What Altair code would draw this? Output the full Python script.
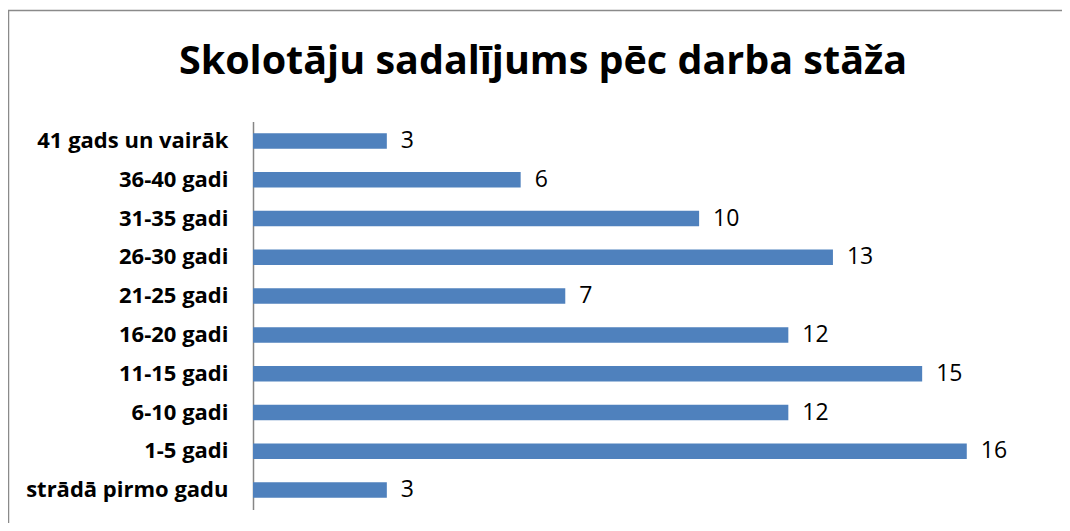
import altair as alt
import pandas as pd

categories = ["41 gads un vairāk", "36-40 gadi", "31-35 gadi", "26-30 gadi", "21-25 gadi",
              "16-20 gadi", "11-15 gadi", "6-10 gadi", "1-5 gadi", "strādā pirmo gadu"]
values = [3, 6, 10, 13, 7, 12, 15, 12, 16, 3]
title_text = "Skolotāju sadalījums pēc darba stāža"

df = pd.DataFrame({"cat": categories, "val": values})

FONT = "Open Sans"

y_enc = alt.Y("cat:N", sort=categories,
              scale=alt.Scale(paddingInner=0.6, paddingOuter=0.3),
              axis=alt.Axis(title=None, ticks=False, tickSize=0, labelPadding=25,
                            labelLimit=500,
                            labelFont=FONT, labelFontSize=22, labelFontWeight="bold",
                            labelColor="black", domainColor="#868686", domainWidth=1.5,
                            grid=False))
x_enc = alt.X("val:Q", scale=alt.Scale(domain=[0, 18], nice=False, zero=True), axis=None)

bars = alt.Chart(df).mark_bar(color="#4F81BD").encode(x=x_enc, y=y_enc)
labels = alt.Chart(df).mark_text(align="left", baseline="middle", dx=14, font=FONT,
                                 fontSize=23, color="black").encode(
    x=x_enc, y=alt.Y("cat:N", sort=categories), text="val:Q")

one = alt.Data(values=[{"a": 1}])
title = alt.Chart(one).mark_text(align="center", baseline="alphabetic", font=FONT,
                                 fontSize=39.5, fontWeight="bold", color="black",
                                 text=title_text).encode(
    x=alt.value(290), y=alt.value(-47.5))
top_line = alt.Chart(one).mark_rule(color="#8a8a8a", strokeWidth=1.5).encode(
    x=alt.value(-245), x2=alt.value(809), y=alt.value(-111))
left_line = alt.Chart(one).mark_rule(color="#8a8a8a", strokeWidth=1.5).encode(
    x=alt.value(-244.5), y=alt.value(-111.5), y2=alt.value(401.5))

chart = alt.layer(top_line, left_line, title, bars, labels).properties(
    width=803, height=388,
    padding={"left": 245, "top": 113.5, "right": 6, "bottom": 13.5},
    autosize=alt.AutoSizeParams(type="none"),
).configure_view(stroke=None)

chart.save("out.html", embed_options={"renderer": "svg", "actions": False})
